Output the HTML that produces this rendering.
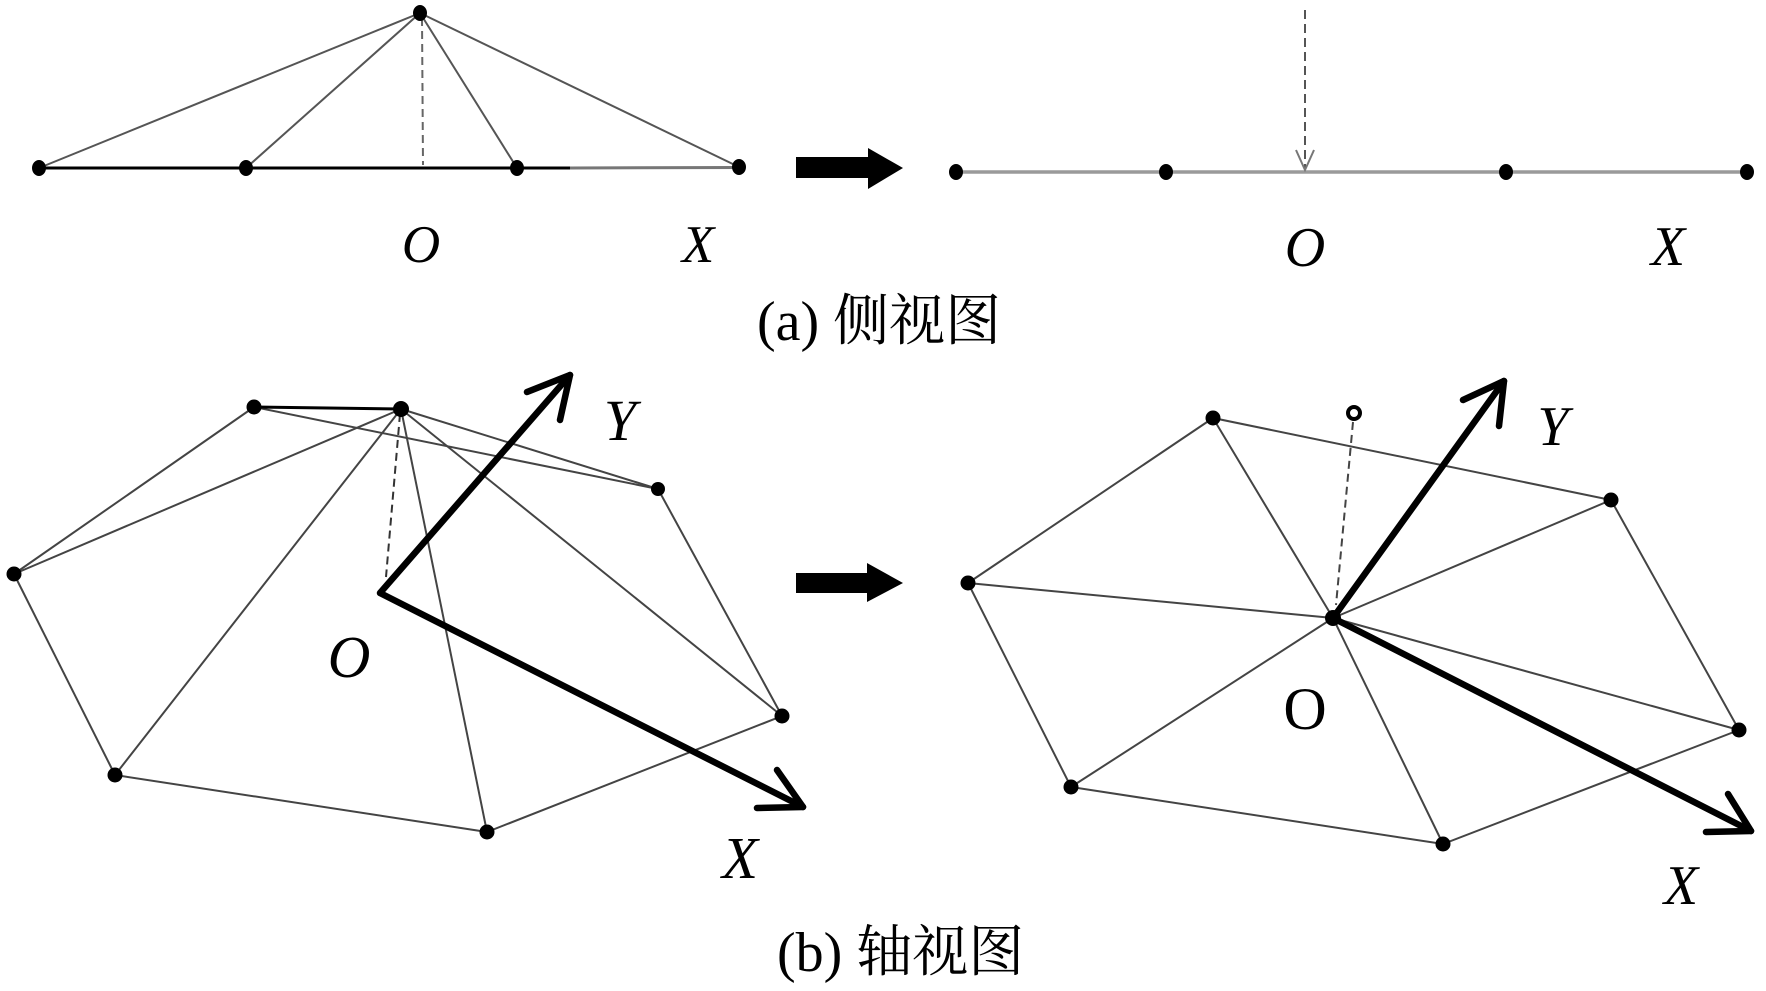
<!DOCTYPE html>
<html>
<head>
<meta charset="utf-8">
<style>
  html, body { margin: 0; padding: 0; background: #fff; }
  body { width: 1766px; height: 991px; overflow: hidden; }
  svg { display: block; }
  .it { font-family: "Liberation Serif", serif; font-style: italic; fill: #000; }
  .up { font-family: "Liberation Serif", serif; fill: #000; }
  .cap { font-family: "Liberation Serif", "Noto Serif CJK SC", serif; fill: #000; font-size: 56px; }
</style>
</head>
<body>
<svg width="1766" height="991" viewBox="0 0 1766 991" xmlns="http://www.w3.org/2000/svg">
  <rect width="1766" height="991" fill="#fff"/>

  <!-- ========== (a) side view, left ========== -->
  <g stroke="#555" stroke-width="2" fill="none">
    <line x1="420" y1="13" x2="39" y2="168"/>
    <line x1="420" y1="13" x2="246" y2="168"/>
    <line x1="420" y1="13" x2="517" y2="168"/>
    <line x1="420" y1="13" x2="739" y2="167"/>
  </g>
  <line x1="422" y1="18" x2="423" y2="165" stroke="#666" stroke-width="2" stroke-dasharray="8,5"/>
  <line x1="39" y1="168" x2="570" y2="168" stroke="#000" stroke-width="3"/>
  <line x1="570" y1="168" x2="739" y2="167.5" stroke="#777" stroke-width="3"/>
  <g fill="#000">
    <ellipse cx="420" cy="13" rx="7" ry="8"/>
    <ellipse cx="39" cy="168" rx="7" ry="8"/>
    <ellipse cx="246" cy="168" rx="7" ry="8"/>
    <ellipse cx="517" cy="168" rx="7" ry="8"/>
    <ellipse cx="739" cy="167" rx="7" ry="8"/>
  </g>
  <text class="it" x="421" y="262" font-size="53" text-anchor="middle">O</text>
  <text class="it" x="698" y="262" font-size="53" text-anchor="middle">X</text>

  <!-- top big arrow -->
  <polygon points="796,157 868,157 868,148 903,168 868,189 868,178 796,178" fill="#000"/>

  <!-- ========== (a) side view, right ========== -->
  <line x1="956" y1="172" x2="1747" y2="172" stroke="#9a9a9a" stroke-width="3.5"/>
  <line x1="1305" y1="10" x2="1305" y2="168" stroke="#555" stroke-width="2" stroke-dasharray="9,5"/>
  <polyline points="1296,150 1305,170 1314,150" fill="none" stroke="#777" stroke-width="2"/>
  <g fill="#000">
    <ellipse cx="956" cy="172" rx="7" ry="8"/>
    <ellipse cx="1166" cy="172" rx="7" ry="8"/>
    <ellipse cx="1506" cy="172" rx="7" ry="8"/>
    <ellipse cx="1747" cy="172" rx="7" ry="8"/>
  </g>
  <text class="it" x="1305" y="266" font-size="56" text-anchor="middle">O</text>
  <text class="it" x="1668" y="265" font-size="56" text-anchor="middle">X</text>

  <!-- caption (a) -->
  <text class="cap" x="757" y="340">(a) 侧视图</text>

  <!-- ========== (b) axial view, left ========== -->
  <g stroke="#444" stroke-width="2" fill="none">
    <line x1="14" y1="574" x2="254" y2="407"/>
    <line x1="254" y1="407" x2="658" y2="489"/>
    <line x1="401" y1="409" x2="658" y2="489"/>
    <line x1="658" y1="489" x2="782" y2="716"/>
    <line x1="782" y1="716" x2="487" y2="832"/>
    <line x1="487" y1="832" x2="115" y2="775"/>
    <line x1="115" y1="775" x2="14" y2="574"/>
    <line x1="401" y1="409" x2="14" y2="574"/>
    <line x1="401" y1="409" x2="115" y2="775"/>
    <line x1="401" y1="409" x2="487" y2="832"/>
    <line x1="401" y1="409" x2="782" y2="716"/>
  </g>
  <line x1="254" y1="407" x2="401" y2="409" stroke="#000" stroke-width="3"/>
  <line x1="400" y1="414" x2="386" y2="577" stroke="#333" stroke-width="2" stroke-dasharray="8,5"/>
  <!-- axes -->
  <g stroke="#000" stroke-width="6.5" fill="none" stroke-linecap="round" stroke-linejoin="round">
    <polyline points="570,375 380,593 803,807"/>
    <polyline points="527,392 570,375 560,420"/>
    <polyline points="777,770 803,807 757,808"/>
  </g>
  <g fill="#000">
    <circle cx="254" cy="407" r="7.5"/>
    <circle cx="401" cy="409" r="8"/>
    <circle cx="14" cy="574" r="7.5"/>
    <circle cx="658" cy="489" r="7"/>
    <circle cx="782" cy="716" r="7.5"/>
    <circle cx="487" cy="832" r="7.5"/>
    <circle cx="115" cy="775" r="7.5"/>
  </g>
  <text class="it" x="349" y="677" font-size="59" text-anchor="middle">O</text>
  <text class="it" x="620" y="440" font-size="58" text-anchor="middle">Y</text>
  <text class="it" x="740" y="878" font-size="59" text-anchor="middle">X</text>

  <!-- bottom big arrow -->
  <polygon points="796,573 867,573 867,563 903,583 867,602 867,593 796,593" fill="#000"/>

  <!-- ========== (b) axial view, right ========== -->
  <g stroke="#444" stroke-width="2" fill="none">
    <polygon points="968,583 1213,418 1611,500 1739,730 1443,844 1071,787"/>
    <line x1="1333" y1="618" x2="968" y2="583"/>
    <line x1="1333" y1="618" x2="1213" y2="418"/>
    <line x1="1333" y1="618" x2="1611" y2="500"/>
    <line x1="1333" y1="618" x2="1739" y2="730"/>
    <line x1="1333" y1="618" x2="1443" y2="844"/>
    <line x1="1333" y1="618" x2="1071" y2="787"/>
  </g>
  <line x1="1353" y1="422" x2="1336" y2="605" stroke="#444" stroke-width="2" stroke-dasharray="8,5"/>
  <circle cx="1354" cy="413" r="6" fill="#fff" stroke="#000" stroke-width="4"/>
  <g stroke="#000" stroke-width="6.5" fill="none" stroke-linecap="round" stroke-linejoin="round">
    <polyline points="1504,381 1333,618 1751,831"/>
    <polyline points="1463,400 1504,381 1499,426"/>
    <polyline points="1728,794 1751,831 1706,832"/>
  </g>
  <g fill="#000">
    <circle cx="968" cy="583" r="7.5"/>
    <circle cx="1213" cy="418" r="7.5"/>
    <circle cx="1611" cy="500" r="7.5"/>
    <circle cx="1739" cy="730" r="7.5"/>
    <circle cx="1443" cy="844" r="7.5"/>
    <circle cx="1071" cy="787" r="7.5"/>
    <circle cx="1333" cy="618" r="8"/>
  </g>
  <text class="up" x="1305" y="729" font-size="60" text-anchor="middle">O</text>
  <text class="it" x="1553" y="445" font-size="56" text-anchor="middle">Y</text>
  <text class="it" x="1681" y="904" font-size="56" text-anchor="middle">X</text>

  <!-- caption (b) -->
  <text class="cap" x="777" y="971">(b) 轴视图</text>
</svg>
</body>
</html>
